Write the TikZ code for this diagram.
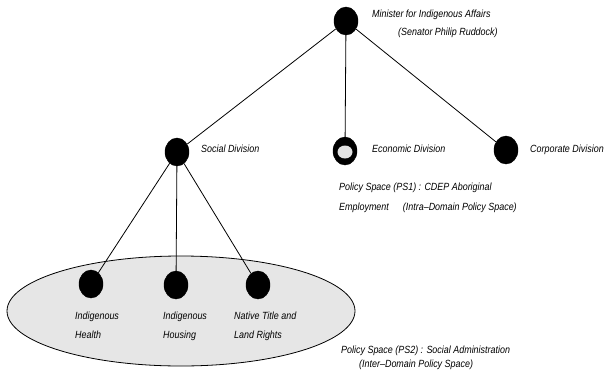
\documentclass[tikz,border=0pt]{standalone}
\usepackage{fontspec}
\setmainfont{Liberation Sans}[FakeStretch=0.86]
\usetikzlibrary{shapes.geometric}
\definecolor{spacefill}{RGB}{230,230,230}
\definecolor{holefill}{RGB}{226,226,226}
\begin{document}
\begin{tikzpicture}[x=1pt,y=-1pt,
  unit/.style={ellipse, fill=black, draw=black, minimum width=24pt, minimum height=28pt, inner sep=0pt},
  lbl/.style={anchor=west, inner sep=0pt, text height=7pt, text depth=2pt,
              font=\fontsize{10.4}{12}\selectfont\itshape},
  link/.style={draw=black, line width=0.8pt}]
\useasboundingbox (0,0) rectangle (605,383);

% inter-domain policy space
\node[ellipse, draw=black, line width=0.8pt, fill=spacefill,
      minimum width=348pt, minimum height=110pt] (ps2) at (181,311) {};

% organisational units
\node[unit] (minister) at (346,21) {};
\node[unit] (social)   at (177,152) {};
\node[unit] (economic) at (345,151) {};
\node[ellipse, fill=holefill, inner sep=0pt, minimum width=15pt, minimum height=13pt] (econhole) at (345,152) {};
\node[unit] (corporate) at (506,150) {};
\node[unit] (health)  at (91,284) {};
\node[unit] (housing) at (176,285) {};
\node[unit] (native)  at (258,285) {};

% reporting lines
\draw[link] (minister) -- (social);
\draw[link] (minister) -- (economic);
\draw[link] (minister) -- (corporate);
\draw[link] (social) -- (health);
\draw[link] (social) -- (housing);
\draw[link] (social) -- (native);

% labels
\node[lbl] (tminister1) at (372,15) {Minister for Indigenous Affairs};
\node[lbl] (tminister2) at (398,33) {(Senator Philip Ruddock)};
\node[lbl] (tsocial)    at (201,150) {Social Division};
\node[lbl] (teconomic)  at (372,150) {Economic Division};
\node[lbl] (tcorporate) at (530,150) {Corporate Division};
\node[lbl] (tps1a) at (339,188) {Policy Space (PS1) : CDEP Aboriginal};
\node[lbl] (tps1b) at (339,208) {Employment\hspace{14pt}(Intra–Domain Policy Space)};
\node[lbl] (thealth1)  at (75,317)  {Indigenous};
\node[lbl] (thealth2)  at (75,336)  {Health};
\node[lbl] (thousing1) at (163,317) {Indigenous};
\node[lbl] (thousing2) at (163,336) {Housing};
\node[lbl] (tnative1)  at (234,317) {Native Title and};
\node[lbl] (tnative2)  at (234,336) {Land Rights};
\node[lbl] (tps2a) at (341,351) {Policy Space (PS2) : Social Administration};
\node[lbl] (tps2b) at (359,365) {(Inter–Domain Policy Space)};
\end{tikzpicture}
\end{document}
